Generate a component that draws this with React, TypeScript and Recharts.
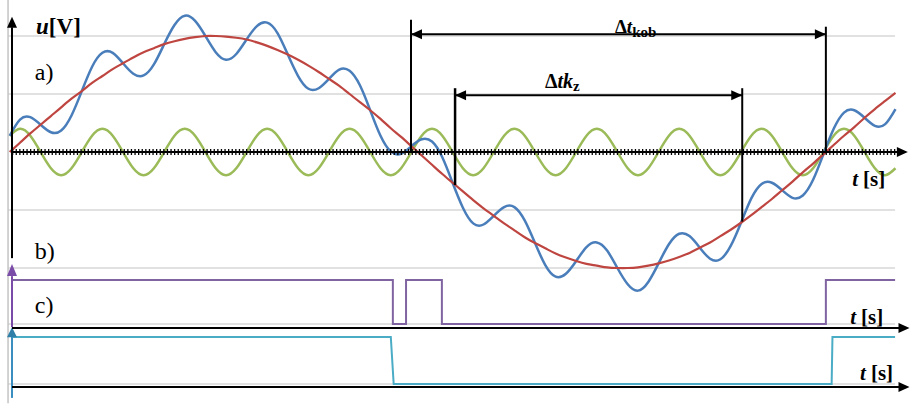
import { ComposedChart, Line, XAxis, YAxis, ReferenceLine, ReferenceDot } from "recharts";

// sample times (one step = quarter period of the harmonic)
const time = [
  0, 0.25, 0.5, 0.75, 1, 1.25, 1.5, 1.75, 2, 2.25, 2.5, 2.75, 3, 3.25, 3.5, 3.75,
  4, 4.25, 4.5, 4.75, 5, 5.25, 5.5, 5.75, 6, 6.25, 6.5, 6.75, 7, 7.25, 7.5, 7.75,
  8, 8.25, 8.5, 8.75, 9, 9.25, 9.5, 9.75, 10, 10.25, 10.5, 10.75, 11, 11.25, 11.5, 11.75,
  12, 12.25, 12.5, 12.75, 13, 13.25, 13.5, 13.75, 14, 14.25, 14.5, 14.75, 15, 15.25, 15.5, 15.75,
  16, 16.25, 16.5, 16.75, 17, 17.25, 17.5, 17.75, 18, 18.25, 18.5, 18.75, 19, 19.25, 19.5, 19.75,
  20, 20.25, 20.5, 20.75, 21, 21.25, 21.5,
];

// red - fundamental
const fundamental = [
  0, 0.16, 0.32, 0.47, 0.62, 0.77, 0.92, 1.05, 1.19, 1.31, 1.43, 1.53, 1.63, 1.72, 1.79, 1.86,
  1.91, 1.95, 1.98, 2.0, 2.0, 1.99, 1.97, 1.94, 1.89, 1.83, 1.76, 1.68, 1.59, 1.49, 1.38, 1.26,
  1.14, 1.0, 0.86, 0.72, 0.57, 0.41, 0.26, 0.1, -0.06, -0.22, -0.38, -0.53, -0.68, -0.83, -0.97, -1.1,
  -1.23, -1.35, -1.47, -1.57, -1.66, -1.75, -1.82, -1.88, -1.93, -1.96, -1.99, -2.0, -2.0, -1.99, -1.96, -1.92,
  -1.87, -1.81, -1.74, -1.65, -1.56, -1.45, -1.34, -1.22, -1.09, -0.95, -0.81, -0.66, -0.51, -0.35, -0.2, -0.04,
  0.12, 0.28, 0.43, 0.59, 0.74, 0.88, 1.02,
];

// green - higher harmonic
const harmonic = [
  0.28, 0.4, 0.28, 0, -0.28, -0.4, -0.28, 0, 0.28, 0.4, 0.28, 0, -0.28, -0.4, -0.28, 0,
  0.28, 0.4, 0.28, 0, -0.28, -0.4, -0.28, 0, 0.28, 0.4, 0.28, 0, -0.28, -0.4, -0.28, 0,
  0.28, 0.4, 0.28, 0, -0.28, -0.4, -0.28, 0, 0.28, 0.4, 0.28, 0, -0.28, -0.4, -0.28, 0,
  0.28, 0.4, 0.28, 0, -0.28, -0.4, -0.28, 0, 0.28, 0.4, 0.28, 0, -0.28, -0.4, -0.28, 0,
  0.28, 0.4, 0.28, 0, -0.28, -0.4, -0.28, 0, 0.28, 0.4, 0.28, 0, -0.28, -0.4, -0.28, 0,
  0.28, 0.4, 0.28, 0, -0.28, -0.4, -0.28,
];

// blue - distorted voltage
const measured = [
  0.28, 0.56, 0.6, 0.47, 0.34, 0.37, 0.63, 1.05, 1.47, 1.71, 1.71, 1.53, 1.35, 1.32, 1.51, 1.86,
  2.19, 2.35, 2.26, 2.0, 1.72, 1.59, 1.69, 1.94, 2.17, 2.23, 2.05, 1.68, 1.31, 1.09, 1.1, 1.26,
  1.42, 1.4, 1.15, 0.72, 0.28, 0.01, -0.03, 0.1, 0.22, 0.18, -0.09, -0.53, -0.96, -1.23, -1.25, -1.1,
  -0.95, -0.95, -1.18, -1.57, -1.95, -2.15, -2.1, -1.88, -1.64, -1.56, -1.7, -2.0, -2.28, -2.39, -2.24, -1.92,
  -1.59, -1.41, -1.45, -1.65, -1.84, -1.85, -1.62, -1.22, -0.8, -0.55, -0.53, -0.66, -0.79, -0.75, -0.48, -0.04,
  0.4, 0.68, 0.72, 0.59, 0.45, 0.48, 0.74,
];

// c) zero-crossing comparator output, d) filtered output
const compTime = [0.06, 9.3, 9.3, 9.62, 9.62, 10.49, 10.49, 19.81, 19.81, 21.49];
const compState = [1, 1, 0, 0, 1, 1, 0, 0, 1, 1];
const outTime = [0.06, 9.25, 9.32, 19.95, 19.97, 21.49];
const outState = [1, 1, 0, 0, 1, 1];

// annotation times: Δt_kob between zero crossings, Δtk_z inner span
const kobStart = 9.74;
const kobEnd = 19.81;
const kzStart = 10.81;
const kzEnd = 17.78;

const wave = time.map((t, i) => ({
  t,
  red: fundamental[i],
  green: harmonic[i],
  blue: measured[i],
}));
const comp = compTime.map((t, i) => ({ t, c: compState[i] }));
const out = outTime.map((t, i) => ({ t, d: outState[i] }));

const FONT = "Liberation Serif, DejaVu Serif, serif";
const GRID = "#c4c4c4";
const axisX = 0.056;
const gridStart = -0.04;
const gridEnd = 21.49;

const arrow =
  (dir: "up" | "right" | "left", fill = "#000", len = 11, half = 5) =>
  (p: any) => {
    const { cx, cy } = p;
    let pts = "";
    if (dir === "up") pts = `${cx},${cy} ${cx - half},${cy + len} ${cx + half},${cy + len}`;
    if (dir === "right") pts = `${cx},${cy} ${cx - len},${cy - half} ${cx - len},${cy + half}`;
    if (dir === "left") pts = `${cx},${cy} ${cx + len},${cy - half} ${cx + len},${cy + half}`;
    return <polygon points={pts} fill={fill} />;
  };

const label =
  (content: React.ReactNode, size = 22, weight: any = "bold") =>
  (p: any) => (
    <text
      x={p.cx}
      y={p.cy}
      style={{ fontFamily: FONT, fontSize: size, fontWeight: weight }}
      fill="#000"
    >
      {content}
    </text>
  );

const tUnit = (
  <>
    <tspan fontStyle="italic">t</tspan>
    <tspan dx={5}>[s]</tspan>
  </>
);

const lineProps = { dot: false, activeDot: false, isAnimationActive: false } as const;

export default function App() {
  return (
    <div style={{ position: "absolute", left: 0, top: 0, width: 910, height: 406, background: "#fff" }}>
      <ComposedChart width={910} height={406} data={wave} margin={{ top: 0, right: 0, bottom: 0, left: 0 }}>
        <XAxis dataKey="t" type="number" domain={[-0.2354, 21.852]} allowDataOverflow hide />
        <YAxis yAxisId="u" type="number" domain={[-4.3793, 2.6207]} allowDataOverflow hide />
        <YAxis yAxisId="c" type="number" domain={[-1.8636, 7.3636]} allowDataOverflow hide />
        <YAxis yAxisId="d" type="number" domain={[-0.4681, 8.1702]} allowDataOverflow hide />

        {/* light gridlines */}
        {[2, 1, -1, -2].map((v) => (
          <ReferenceLine
            key={v}
            yAxisId="u"
            segment={[{ x: gridStart, y: v }, { x: gridEnd, y: v }]}
            stroke={GRID}
            strokeWidth={1.2}
            zIndex={-100}
          />
        ))}
        <ReferenceLine yAxisId="c" segment={[{ x: gridStart, y: 0 }, { x: gridEnd, y: 0 }]} stroke={GRID} strokeWidth={1.2} zIndex={-100} />
        <ReferenceLine yAxisId="d" segment={[{ x: gridStart, y: 0 }, { x: gridEnd, y: 0 }]} stroke={GRID} strokeWidth={1.2} zIndex={-100} />
        <ReferenceLine yAxisId="u" segment={[{ x: gridStart, y: 2.62 }, { x: gridStart, y: -4.33 }]} stroke={GRID} strokeWidth={1.5} zIndex={-100} />

        {/* signals */}
        <Line yAxisId="u" dataKey="green" type="natural" stroke="#9bbb59" strokeWidth={2.5} {...lineProps} />
        <Line yAxisId="u" dataKey="blue" type="natural" stroke="#4a7ebb" strokeWidth={2.5} {...lineProps} />
        <Line yAxisId="u" dataKey="red" type="natural" stroke="#be4540" strokeWidth={2.2} {...lineProps} />
        <Line yAxisId="c" data={comp} dataKey="c" type="linear" stroke="#8064a2" strokeWidth={2} {...lineProps} />
        <Line yAxisId="d" data={out} dataKey="d" type="linear" stroke="#4bacc6" strokeWidth={2} {...lineProps} />

        {/* zero axis with dense ticks */}
        <ReferenceLine yAxisId="u" segment={[{ x: axisX, y: 0 }, { x: 21.56, y: 0 }]} stroke="#000" strokeWidth={2} zIndex={600} />
        <ReferenceLine yAxisId="u" segment={[{ x: axisX, y: 0 }, { x: 21.5, y: 0 }]} stroke="#000" strokeWidth={6} strokeDasharray="1.3 2.3" zIndex={600} />
        <ReferenceDot yAxisId="u" x={21.8} y={0} shape={arrow("right")} zIndex={600} />

        {/* vertical axes */}
        <ReferenceLine yAxisId="u" segment={[{ x: axisX, y: 2.15 }, { x: axisX, y: -1.83 }]} stroke="#000" strokeWidth={2} zIndex={600} />
        <ReferenceDot yAxisId="u" x={axisX} y={2.33} shape={arrow("up", "#000", 11, 5)} zIndex={600} />
        <ReferenceLine yAxisId="u" segment={[{ x: axisX, y: -2.14 }, { x: axisX, y: -3.02 }]} stroke="#7b4ba8" strokeWidth={2} zIndex={600} />
        <ReferenceDot yAxisId="u" x={axisX} y={-1.93} shape={arrow("up", "#7b4ba8", 12, 5)} zIndex={600} />
        <ReferenceLine yAxisId="u" segment={[{ x: axisX, y: -3.17 }, { x: axisX, y: -4.24 }]} stroke="#3a8fc0" strokeWidth={2} zIndex={600} />
        <ReferenceDot yAxisId="u" x={axisX} y={-3.02} shape={arrow("up", "#2f7fa8", 10, 5)} zIndex={600} />

        {/* time axes of c) and d) */}
        <ReferenceLine yAxisId="u" segment={[{ x: axisX, y: -3.034 }, { x: 21.6, y: -3.034 }]} stroke="#000" strokeWidth={2} zIndex={600} />
        <ReferenceDot yAxisId="u" x={21.84} y={-3.034} shape={arrow("right")} zIndex={600} />
        <ReferenceLine yAxisId="u" segment={[{ x: axisX, y: -4.052 }, { x: 21.6, y: -4.052 }]} stroke="#000" strokeWidth={2} zIndex={600} />
        <ReferenceDot yAxisId="u" x={21.84} y={-4.052} shape={arrow("right")} zIndex={600} />

        {/* Δt_kob */}
        <ReferenceLine yAxisId="u" segment={[{ x: kobStart, y: 2.28 }, { x: kobStart, y: 0 }]} stroke="#000" strokeWidth={2} zIndex={600} />
        <ReferenceLine yAxisId="u" segment={[{ x: kobEnd, y: 2.16 }, { x: kobEnd, y: 0 }]} stroke="#000" strokeWidth={2} zIndex={600} />
        <ReferenceLine yAxisId="u" segment={[{ x: kobStart, y: 2.03 }, { x: kobEnd, y: 2.03 }]} stroke="#000" strokeWidth={2} zIndex={600} />
        <ReferenceDot yAxisId="u" x={kobStart} y={2.03} shape={arrow("left", "#000", 11, 5)} zIndex={600} />
        <ReferenceDot yAxisId="u" x={kobEnd} y={2.03} shape={arrow("right", "#000", 11, 5)} zIndex={600} />

        {/* Δtk_z */}
        <ReferenceLine yAxisId="u" segment={[{ x: kzStart, y: 1.1 }, { x: kzStart, y: -0.57 }]} stroke="#000" strokeWidth={2.5} zIndex={600} />
        <ReferenceLine yAxisId="u" segment={[{ x: kzEnd, y: 1.1 }, { x: kzEnd, y: -1.2 }]} stroke="#000" strokeWidth={2} zIndex={600} />
        <ReferenceLine yAxisId="u" segment={[{ x: kzStart, y: 0.98 }, { x: kzEnd, y: 0.98 }]} stroke="#000" strokeWidth={2} zIndex={600} />
        <ReferenceDot yAxisId="u" x={kzStart} y={0.98} shape={arrow("left", "#000", 11, 5)} zIndex={600} />
        <ReferenceDot yAxisId="u" x={kzEnd} y={0.98} shape={arrow("right", "#000", 11, 5)} zIndex={600} />

        {/* texts */}
        <ReferenceDot
          yAxisId="u"
          x={0.64}
          y={2.03}
          shape={label(
            <>
              <tspan fontStyle="italic">u</tspan>
              <tspan>[V]</tspan>
            </>,
            23
          )}
          zIndex={2000}
        />
        <ReferenceDot yAxisId="u" x={0.61} y={1.24} shape={label("a)", 24, "normal")} zIndex={2000} />
        <ReferenceDot yAxisId="u" x={0.61} y={-1.845} shape={label("b)", 24, "normal")} zIndex={2000} />
        <ReferenceDot yAxisId="u" x={0.61} y={-2.776} shape={label("c)", 24, "normal")} zIndex={2000} />
        <ReferenceDot yAxisId="u" x={20.45} y={-0.586} shape={label(tUnit, 21)} zIndex={2000} />
        <ReferenceDot yAxisId="u" x={20.4} y={-2.966} shape={label(tUnit, 21)} zIndex={2000} />
        <ReferenceDot yAxisId="u" x={20.64} y={-3.93} shape={label(tUnit, 21)} zIndex={2000} />
        <ReferenceDot
          yAxisId="u"
          x={14.69}
          y={2.05}
          shape={label(
            <>
              <tspan>Δ</tspan>
              <tspan fontStyle="italic">t</tspan>
              <tspan fontSize={15} dy={4}>kob</tspan>
            </>,
            19
          )}
          zIndex={2000}
        />
        <ReferenceDot
          yAxisId="u"
          x={12.99}
          y={1.1}
          shape={label(
            <>
              <tspan>Δ</tspan>
              <tspan fontStyle="italic">tk</tspan>
              <tspan fontSize={15} dy={3}>z</tspan>
            </>,
            20
          )}
          zIndex={2000}
        />
      </ComposedChart>
    </div>
  );
}
